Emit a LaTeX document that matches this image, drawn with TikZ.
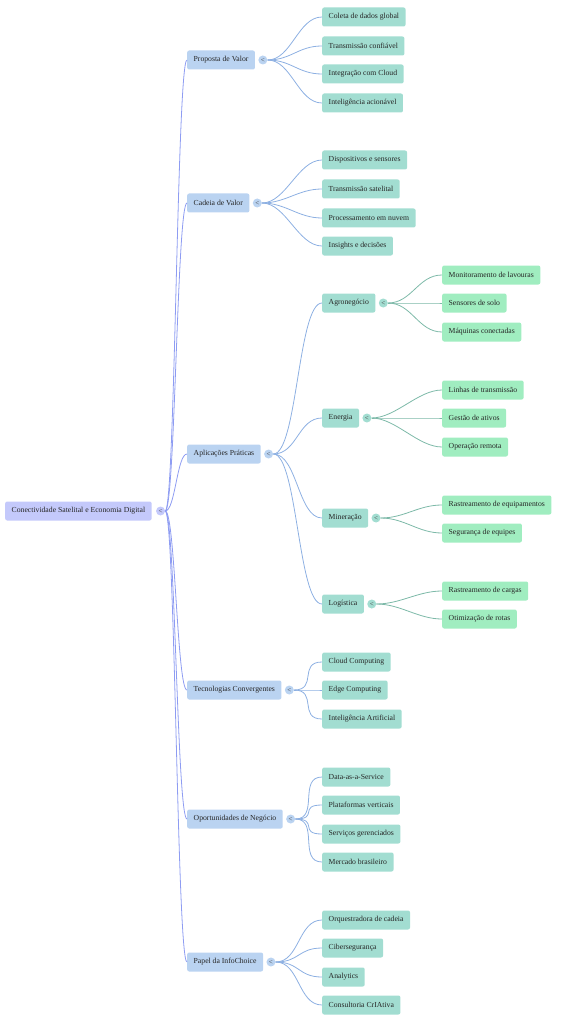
\documentclass[tikz,border=0pt]{standalone}
\usepackage{fontspec}
\setmainfont{Liberation Serif}
\usetikzlibrary{positioning}

\definecolor{rootfill}{HTML}{C4C9FB}
\definecolor{topfill}{HTML}{BAD3F1}
\definecolor{midfill}{HTML}{A2DDD1}
\definecolor{leaffill}{HTML}{A0EDC0}
\definecolor{rootline}{HTML}{8E9CF2}
\definecolor{topline}{HTML}{8DB0E2}
\definecolor{midline}{HTML}{7DB9A8}

\begin{document}
\begin{tikzpicture}[x=1pt,y=-1pt,
    box/.style={rounded corners=2pt, minimum height=19pt, inner xsep=6.5pt,
        anchor=west, text=black!85, font=\fontsize{7.7}{9}\selectfont},
    rootbox/.style={box, fill=rootfill},
    topbox/.style={box, fill=topfill},
    midbox/.style={box, fill=midfill},
    leafbox/.style={box, fill=leaffill},
    toggle/.style={circle, inner sep=0pt, minimum size=9pt,
        font=\fontsize{7}{7}\selectfont, text=black!75},
    rootlink/.style={rootline, line width=0.8pt, out=0, in=180,
        out distance=10pt, in distance=10pt},
    toplink/.style={topline, line width=0.8pt, out=0, in=180,
        out distance=24pt, in distance=24pt},
    midlink/.style={midline, line width=0.8pt, out=0, in=180,
        out distance=24pt, in distance=24pt}]
    \useasboundingbox (0,0) rectangle (575,1024);

    % root
    \node[rootbox] (root) at (5,511) {Conectividade Satelital e Economia Digital};
    \node[toggle, fill=rootfill, right=4pt of root] (root-t) {<};

    % first level
    \node[topbox] (pv) at (187,60) {Proposta de Valor};
    \node[topbox] (cv) at (187,203) {Cadeia de Valor};
    \node[topbox] (ap) at (187,454) {Aplicações Práticas};
    \node[topbox] (tc) at (187,690) {Tecnologias Convergentes};
    \node[topbox] (on) at (187,819) {Oportunidades de Negócio};
    \node[topbox] (pi) at (187,962) {Papel da InfoChoice};
    \foreach \n in {pv,cv,ap,tc,on,pi} {
        \node[toggle, fill=topfill, right=3pt of \n] (\n-t) {<};
        \draw[rootlink] (root-t.east) to (\n.west);
    }

    % Proposta de Valor
    \node[midbox] (pv1) at (322,17) {Coleta de dados global};
    \node[midbox] (pv2) at (322,46) {Transmissão confiável};
    \node[midbox] (pv3) at (322,74) {Integração com Cloud};
    \node[midbox] (pv4) at (322,103) {Inteligência acionável};

    % Cadeia de Valor
    \node[midbox] (cv1) at (322,160) {Dispositivos e sensores};
    \node[midbox] (cv2) at (322,189) {Transmissão satelital};
    \node[midbox] (cv3) at (322,218) {Processamento em nuvem};
    \node[midbox] (cv4) at (322,246) {Insights e decisões};

    % Aplicacoes Praticas
    \node[midbox] (ap1) at (322,303) {Agronegócio};
    \node[midbox] (ap2) at (322,418) {Energia};
    \node[midbox] (ap3) at (322,518) {Mineração};
    \node[midbox] (ap4) at (322,604) {Logística};
    \foreach \n in {ap1,ap2,ap3,ap4}
        \node[toggle, fill=midfill, right=3pt of \n] (\n-t) {<};

    \node[leafbox] (ap11) at (442,275) {Monitoramento de lavouras};
    \node[leafbox] (ap12) at (442,303) {Sensores de solo};
    \node[leafbox] (ap13) at (442,332) {Máquinas conectadas};
    \node[leafbox] (ap21) at (442,390) {Linhas de transmissão};
    \node[leafbox] (ap22) at (442,418) {Gestão de ativos};
    \node[leafbox] (ap23) at (442,447) {Operação remota};
    \node[leafbox] (ap31) at (442,505) {Rastreamento de equipamentos};
    \node[leafbox] (ap32) at (442,533) {Segurança de equipes};
    \node[leafbox] (ap41) at (442,591) {Rastreamento de cargas};
    \node[leafbox] (ap42) at (442,619) {Otimização de rotas};

    % Tecnologias Convergentes
    \node[midbox] (tc1) at (322,662) {Cloud Computing};
    \node[midbox] (tc2) at (322,690) {Edge Computing};
    \node[midbox] (tc3) at (322,719) {Inteligência Artificial};

    % Oportunidades de Negocio
    \node[midbox] (on1) at (322,777) {Data-as-a-Service};
    \node[midbox] (on2) at (322,805) {Plataformas verticais};
    \node[midbox] (on3) at (322,834) {Serviços gerenciados};
    \node[midbox] (on4) at (322,862) {Mercado brasileiro};

    % Papel da InfoChoice
    \node[midbox] (pi1) at (322,920) {Orquestradora de cadeia};
    \node[midbox] (pi2) at (322,948) {Cibersegurança};
    \node[midbox] (pi3) at (322,977) {Analytics};
    \node[midbox] (pi4) at (322,1005) {Consultoria CrIAtiva};

    % links
    \foreach \p/\c in {pv/pv1,pv/pv2,pv/pv3,pv/pv4,cv/cv1,cv/cv2,cv/cv3,cv/cv4,
        ap/ap1,ap/ap2,ap/ap3,ap/ap4,tc/tc1,tc/tc2,tc/tc3,
        on/on1,on/on2,on/on3,on/on4,pi/pi1,pi/pi2,pi/pi3,pi/pi4}
        \draw[toplink] (\p-t.east) to (\c.west);
    \foreach \p/\c in {ap1/ap11,ap1/ap12,ap1/ap13,ap2/ap21,ap2/ap22,ap2/ap23,
        ap3/ap31,ap3/ap32,ap4/ap41,ap4/ap42}
        \draw[midlink] (\p-t.east) to (\c.west);
\end{tikzpicture}
\end{document}
